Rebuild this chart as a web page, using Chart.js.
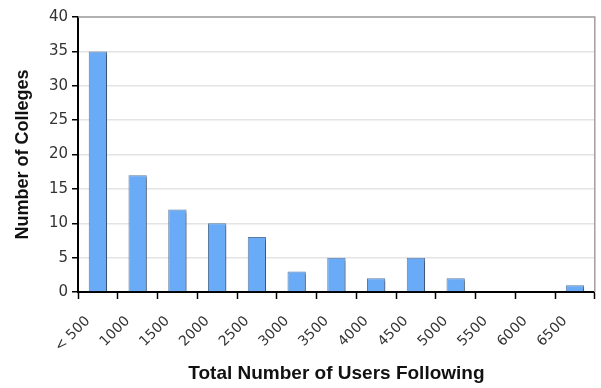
<!DOCTYPE html>
<html>
<head>
<meta charset="utf-8">
<script src="https://cdn.jsdelivr.net/npm/chart.js@4/dist/chart.umd.min.js"></script>
<style>
  html, body { margin: 0; padding: 0; background: #fff; }
  #wrap { width: 601px; height: 388px; }
</style>
</head>
<body>
<div id="wrap"><canvas id="chart" width="601" height="388"></canvas></div>
<script>
const categories = ["< 500", "1000", "1500", "2000", "2500", "3000", "3500", "4000", "4500", "5000", "5500", "6000", "6500"];
const colleges = [35, 17, 12, 10, 8, 3, 5, 2, 5, 2, 0, 0, 1];
const yMax = 40;
const yStep = 5;

// soft drop shadow behind the bars, like the original spreadsheet chart
const barShadow = {
    id: "barShadow",
    beforeDatasetDraw(chart) {
        const ctx = chart.ctx;
        ctx.save();
        ctx.shadowColor = "rgba(0,0,0,0.35)";
        ctx.shadowBlur = 2;
        ctx.shadowOffsetX = 3;
        ctx.shadowOffsetY = 2;
    },
    afterDatasetDraw(chart) {
        chart.ctx.restore();
    }
};

// grey frame on top and right of the plot area
const plotFrame = {
    id: "plotFrame",
    afterDraw(chart) {
        const { ctx, chartArea: a } = chart;
        ctx.save();
        ctx.strokeStyle = "#a0a0a0";
        ctx.lineWidth = 1.5;
        ctx.beginPath();
        ctx.moveTo(a.left, a.top);
        ctx.lineTo(a.right, a.top);
        ctx.lineTo(a.right, a.bottom);
        ctx.stroke();
        ctx.restore();
    }
};

new Chart(document.getElementById("chart"), {
    type: "bar",
    data: {
        labels: categories,
        datasets: [{
            label: "Number of Colleges",
            data: colleges,
            backgroundColor: "#69abf7",
            borderColor: "#5b7aa3",
            borderWidth: 1,
            categoryPercentage: 1,
            barPercentage: 0.46
        }]
    },
    plugins: [barShadow, plotFrame],
    options: {
        responsive: false,
        animation: false,
        layout: { padding: { top: 17, right: 5, left: 0, bottom: 0 } },
        plugins: {
            legend: { display: false },
            tooltip: { enabled: false }
        },
        scales: {
            x: {
                offset: true,
                grid: {
                    offset: true,
                    drawOnChartArea: false,
                    tickLength: 7,
                    tickColor: "#000",
                    tickWidth: 1.5
                },
                border: { color: "#000", width: 2 },
                ticks: {
                    minRotation: 45,
                    maxRotation: 45,
                    autoSkip: false,
                    labelOffset: -10,
                    padding: 14,
                    color: "#333",
                    font: { family: "DejaVu Sans", size: 14 }
                },
                title: {
                    display: true,
                    text: "Total Number of Users Following",
                    color: "#111",
                    font: { family: "Liberation Sans", size: 19, weight: "bold" },
                    padding: { top: 0, bottom: 3 }
                },
                afterFit(scale) { scale.height = 96; }
            },
            y: {
                min: 0,
                max: yMax,
                ticks: {
                    stepSize: yStep,
                    color: "#333",
                    padding: 4,
                    font: { family: "DejaVu Sans", size: 15 }
                },
                grid: {
                    color: "#e4e4e4",
                    lineWidth: 1.5,
                    tickLength: 6,
                    tickColor: "#000",
                    tickWidth: 1.5
                },
                border: { color: "#000", width: 2 },
                title: {
                    display: true,
                    text: "Number of Colleges",
                    color: "#111",
                    font: { family: "Liberation Sans", size: 18, weight: "bold" },
                    padding: { top: 12, bottom: 4 }
                },
                afterFit(scale) { scale.width = 78; }
            }
        }
    }
});
</script>
</body>
</html>
